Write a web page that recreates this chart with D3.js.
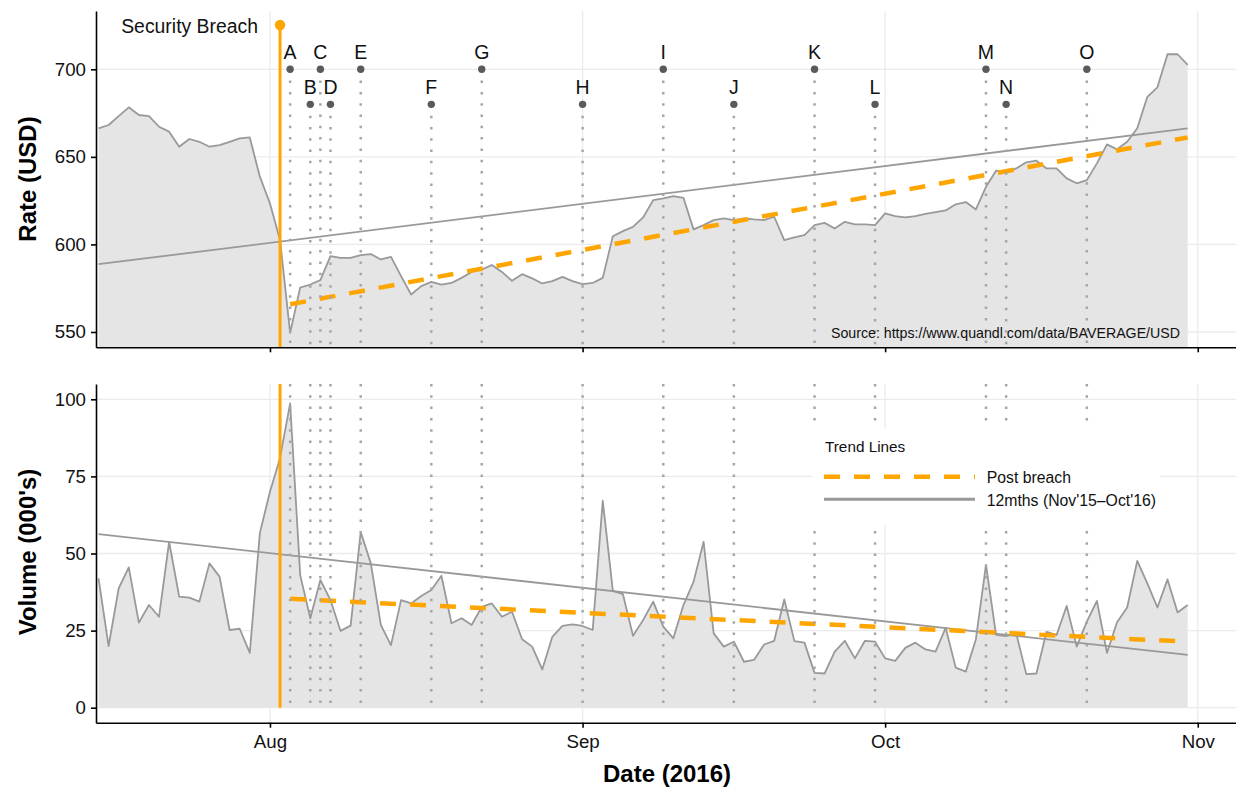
<!DOCTYPE html>
<html>
<head>
<meta charset="utf-8">
<script src="https://cdnjs.cloudflare.com/ajax/libs/d3/7.8.5/d3.min.js"></script>
<style>
  body { margin: 0; background: #fff; }
  svg { display: block; font-family: "Liberation Sans", Arial, Helvetica, sans-serif; }
</style>
</head>
<body>
<svg></svg>
<script>
// BAVERAGE USD daily rate + volume, 15 Jul - 31 Oct 2016
let startDay = "2016-07-15";
let endDay = "2016-10-31";

let rate = [
  666.3, 668.2, 673.3, 678.3, 673.9, 673.3, 667.2, 664.4, 655.8, 660.2,
  658.6, 655.8, 656.7, 658.6, 660.6, 661.1, 638.7, 623.4, 602.5, 549.5,
  575.4, 577.1, 579.6, 593.3, 592.3, 592.3, 593.9, 594.5, 591.4, 592.9,
  581.9, 571.4, 576.2, 578.6, 577.1, 578.0, 580.9, 584.3, 585.7, 588.2,
  584.3, 579.2, 583.0, 580.6, 577.7, 579.0, 581.5, 579.0, 577.3, 578.0,
  580.9, 604.7, 607.6, 610.0, 615.4, 625.3, 626.3, 627.6, 626.6, 608.6,
  611.0, 613.9, 614.9, 613.9, 614.9, 614.3, 613.9, 615.8, 602.5, 604.0,
  605.3, 611.0, 612.3, 609.1, 612.9, 611.4, 611.4, 611.0, 617.7, 616.2,
  615.4, 616.2, 617.5, 618.4, 619.4, 622.9, 624.2, 620.0, 632.9, 642.1,
  641.3, 643.4, 646.9, 647.8, 643.4, 643.4, 637.7, 634.9, 636.7, 646.3,
  657.1, 654.3, 658.6, 666.3, 684.3, 689.7, 708.6, 708.6, 702.5
];

let volume = [
  41.9, 20.0, 38.7, 45.5, 27.6, 33.3, 29.5, 53.8, 36.0, 35.7,
  34.4, 46.8, 42.5, 25.2, 25.6, 17.8, 56.7, 70.0, 81.0, 98.7,
  43.0, 29.0, 41.4, 34.9, 24.9, 26.6, 57.0, 46.8, 26.8, 20.3,
  34.9, 33.8, 36.2, 38.2, 42.8, 27.4, 29.0, 26.8, 32.7, 33.8,
  29.5, 31.1, 22.2, 19.8, 12.4, 23.0, 26.5, 27.0, 26.5, 25.2,
  67.1, 37.9, 36.8, 23.3, 28.4, 34.4, 26.3, 22.5, 33.3, 40.8,
  53.8, 24.1, 19.8, 21.4, 14.9, 15.5, 20.5, 21.7, 35.1, 21.6,
  21.1, 11.3, 11.1, 18.2, 21.7, 16.0, 21.7, 21.4, 16.0, 15.2,
  19.4, 21.1, 18.9, 18.2, 25.9, 13.0, 11.7, 22.2, 46.3, 23.6,
  23.2, 24.1, 10.9, 11.1, 24.6, 23.6, 33.0, 19.8, 27.9, 34.6,
  17.8, 27.7, 32.5, 47.6, 40.3, 32.5, 41.6, 30.9, 33.3
];

let breachDate = "2016-08-02";
let breachRate = 725.3;

let eventLabels = ["A","B","C","D","E","F","G","H","I","J","K","L","M","N","O"];
let eventDates = ["2016-08-03","2016-08-05","2016-08-06","2016-08-07","2016-08-10",
                  "2016-08-17","2016-08-22","2016-09-01","2016-09-09","2016-09-16",
                  "2016-09-24","2016-09-30","2016-10-11","2016-10-13","2016-10-21"];
let eventRates = [700,680,700,680,700,680,700,680,700,680,700,680,700,680,700];

let trendNames = ["Post breach", "12mths (Nov'15\u2013Oct'16)"];
let trend12Dates = ["2016-07-15","2016-10-31"];
let trendPostDates = ["2016-08-03","2016-10-31"];
let rateTrend12 = [588.7, 666.3];
let rateTrendPost = [565.8, 661.1];
let volTrend12 = [56.3, 17.1];
let volTrendPost = [35.3, 21.4];

let rateTicks = [550,600,650,700];
let volTicks = [0,25,50,75,100];
let monthTicks = ["2016-08-01","2016-09-01","2016-10-01","2016-11-01"];

let parse = d3.timeParse("%Y-%m-%d");
let days = d3.timeDay.range(parse(startDay), d3.timeDay.offset(parse(endDay), 1));
let rateData = days.map((d,i) => ({date: d, value: rate[i]}));
let volData = days.map((d,i) => ({date: d, value: volume[i]}));

let width = 1236;
let height = 789;
let left = 96, right = 1236;
let top1 = 11, bottom1 = 347.3;
let top2 = 384, bottom2 = 722.7;

let orange = "#FFA500";
let lineGrey = "#999999";
let tickFont = 18.7;

let svg = d3.select("svg").attr("width", width).attr("height", height);

let x = d3.scaleTime()
          .domain([new Date(2016,6,14,18), new Date(2016,10,4,19)])
          .range([left, right]);
let yRate = d3.scaleLinear().domain([541.25, 733.3]).range([bottom1, top1]);
let yVol = d3.scaleLinear().domain([-4.86, 104.96]).range([bottom2, top2]);

let drawGrid = (y, ticks, top, bottom) => {
  let g = svg.append("g").attr("stroke", "#ebebeb").attr("stroke-width", 1.3);
  g.selectAll(".h").data(ticks).enter().append("line")
   .attr("x1", left).attr("x2", right)
   .attr("y1", d => y(d)).attr("y2", d => y(d));
  g.selectAll(".v").data(monthTicks).enter().append("line")
   .attr("x1", d => x(parse(d))).attr("x2", d => x(parse(d)))
   .attr("y1", top).attr("y2", bottom);
};

let drawSeries = (data, y, base) => {
  let area = d3.area().x(d => x(d.date)).y0(base).y1(d => y(d.value));
  let line = d3.line().x(d => x(d.date)).y(d => y(d.value));
  svg.append("path").datum(data).attr("d", area).attr("fill", "#e5e5e5");
  svg.append("path").datum(data).attr("d", line)
     .attr("fill", "none").attr("stroke", lineGrey).attr("stroke-width", 1.8)
     .attr("stroke-linejoin", "round");
};

let drawTrends = (y, vals12, valsPost) => {
  let line = d3.line().x(d => x(d[0])).y(d => y(d[1]));
  let t12 = trend12Dates.map((d,i) => [parse(d), vals12[i]]);
  let tPost = trendPostDates.map((d,i) => [parse(d), valsPost[i]]);
  svg.append("path").datum(t12).attr("d", line)
     .attr("fill", "none").attr("stroke", lineGrey).attr("stroke-width", 1.8);
  svg.append("path").datum(tPost).attr("d", line)
     .attr("fill", "none").attr("stroke", orange).attr("stroke-width", 4.5)
     .attr("stroke-dasharray", "16,14");
};

let drawEventLines = (y1, y2) => {
  svg.append("g").selectAll("line").data(eventDates).enter().append("line")
     .attr("x1", d => x(parse(d))).attr("x2", d => x(parse(d)))
     .attr("y1", (d,i) => y1(i)).attr("y2", y2)
     .attr("stroke", "#a6a6a6").attr("stroke-width", 2.5)
     .attr("stroke-dasharray", "2.5,8.8");
};

let drawAxes = (y, ticks, axisY, showLabels) => {
  let yAxis = d3.axisLeft(y).tickValues(ticks).tickSize(5).tickPadding(5).tickSizeOuter(0);
  svg.append("g").attr("transform", "translate(" + left + ",0)").call(yAxis)
     .attr("font-family", null).attr("font-size", tickFont)
     .call(g => g.selectAll("path, line").attr("stroke", "#000").attr("stroke-width", 1.6))
     .call(g => g.selectAll("text").attr("fill", "#111"));

  let xAxis = d3.axisBottom(x).tickValues(monthTicks.map(parse)).tickSize(5).tickPadding(7)
                .tickSizeOuter(0)
                .tickFormat(showLabels ? d3.timeFormat("%b") : () => "");
  svg.append("g").attr("transform", "translate(0," + axisY + ")").call(xAxis)
     .attr("font-family", null).attr("font-size", tickFont)
     .call(g => g.selectAll("path, line").attr("stroke", "#000").attr("stroke-width", 1.6))
     .call(g => g.selectAll("text").attr("fill", "#111"));
};

// ---- top panel: rate
drawGrid(yRate, rateTicks, top1, bottom1);
drawSeries(rateData, yRate, bottom1);
drawTrends(yRate, rateTrend12, rateTrendPost);
drawEventLines(i => yRate(eventRates[i]), bottom1);

svg.append("g").selectAll("circle").data(eventDates).enter().append("circle")
   .attr("cx", d => x(parse(d))).attr("cy", (d,i) => yRate(eventRates[i]))
   .attr("r", 3.7).attr("fill", "#5a5a5a");

svg.append("g").selectAll("text").data(eventLabels).enter().append("text")
   .attr("x", (d,i) => x(parse(eventDates[i])))
   .attr("y", (d,i) => yRate(eventRates[i]) - 17)
   .attr("dy", "0.36em").attr("text-anchor", "middle")
   .attr("font-size", 19.5).attr("fill", "#111")
   .text(d => d);

svg.append("line")
   .attr("x1", x(parse(breachDate))).attr("x2", x(parse(breachDate)))
   .attr("y1", yRate(breachRate)).attr("y2", bottom1)
   .attr("stroke", orange).attr("stroke-width", 3);
svg.append("circle")
   .attr("cx", x(parse(breachDate))).attr("cy", yRate(breachRate))
   .attr("r", 5.2).attr("fill", orange);
svg.append("text")
   .attr("x", x(parse(breachDate)) - 22).attr("y", yRate(breachRate) + 1.5)
   .attr("dy", "0.36em").attr("text-anchor", "end")
   .attr("font-size", 19.4).attr("fill", "#111")
   .text("Security Breach");

svg.append("text")
   .attr("x", 1180).attr("y", 338).attr("text-anchor", "end")
   .attr("font-size", 14.2).attr("fill", "#111")
   .text("Source: https://www.quandl.com/data/BAVERAGE/USD");

drawAxes(yRate, rateTicks, bottom1, false);

// ---- bottom panel: volume
drawGrid(yVol, volTicks, top2, bottom2);
drawSeries(volData, yVol, yVol(0));
drawTrends(yVol, volTrend12, volTrendPost);
drawEventLines(() => top2, yVol(0));

svg.append("line")
   .attr("x1", x(parse(breachDate))).attr("x2", x(parse(breachDate)))
   .attr("y1", top2).attr("y2", yVol(0))
   .attr("stroke", orange).attr("stroke-width", 3);

// legend
let legend = svg.append("g");
legend.append("rect").attr("x", 812).attr("y", 429).attr("width", 348).attr("height", 96)
      .attr("fill", "#fff");
legend.append("text").attr("x", 825).attr("y", 451.7)
      .attr("font-size", 15.3).attr("fill", "#111").text("Trend Lines");
legend.append("line").attr("x1", 824).attr("x2", 975).attr("y1", 476.7).attr("y2", 476.7)
      .attr("stroke", orange).attr("stroke-width", 4.5).attr("stroke-dasharray", "16,14");
legend.append("line").attr("x1", 824).attr("x2", 975).attr("y1", 499.3).attr("y2", 499.3)
      .attr("stroke", lineGrey).attr("stroke-width", 3);
legend.selectAll(".lab").data(trendNames).enter().append("text")
      .attr("x", 986.7).attr("y", (d,i) => 482.5 + i*23.2)
      .attr("font-size", 15.8).attr("fill", "#111").text(d => d);

drawAxes(yVol, volTicks, bottom2, true);

// axis titles
svg.append("text").attr("transform", "translate(36,179) rotate(-90)")
   .attr("text-anchor", "middle").attr("font-size", 24).attr("font-weight", "bold")
   .text("Rate (USD)");
svg.append("text").attr("transform", "translate(36,552) rotate(-90)")
   .attr("text-anchor", "middle").attr("font-size", 24).attr("font-weight", "bold")
   .text("Volume (000's)");
svg.append("text").attr("x", 667).attr("y", 782)
   .attr("text-anchor", "middle").attr("font-size", 24).attr("font-weight", "bold")
   .text("Date (2016)");
</script>
</body>
</html>
